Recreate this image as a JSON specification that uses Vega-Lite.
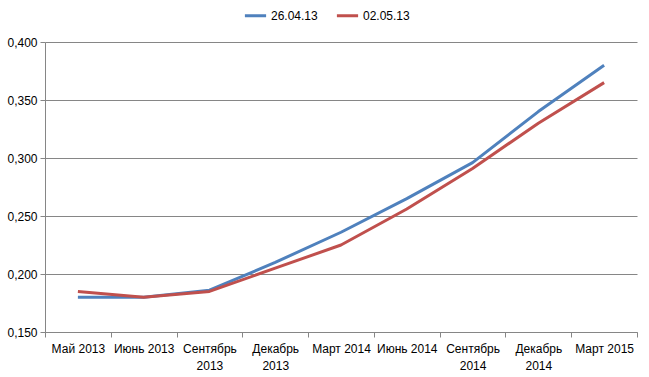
{
  "$schema": "https://vega.github.io/schema/vega-lite/v6.json",
  "autosize": {"type": "none"},
  "width": 592,
  "height": 290,
  "padding": {"left": 45, "top": 42, "right": 12, "bottom": 45},
  "background": "white",
  "config": {
    "view": {"stroke": null},
    "font": "Liberation Sans",
    "axis": {"labelFont": "Liberation Sans", "labelFontSize": 12, "labelColor": "#000000"},
    "legend": {"labelFont": "Liberation Sans", "labelFontSize": 12, "labelColor": "#000000"}
  },
  "data": {
    "values": [
      {"period": "Май 2013", "series": "26.04.13", "value": 0.180},
      {"period": "Июнь 2013", "series": "26.04.13", "value": 0.180},
      {"period": "Сентябрь 2013", "series": "26.04.13", "value": 0.186},
      {"period": "Декабрь 2013", "series": "26.04.13", "value": 0.210},
      {"period": "Март 2014", "series": "26.04.13", "value": 0.236},
      {"period": "Июнь 2014", "series": "26.04.13", "value": 0.265},
      {"period": "Сентябрь 2014", "series": "26.04.13", "value": 0.296},
      {"period": "Декабрь 2014", "series": "26.04.13", "value": 0.340},
      {"period": "Март 2015", "series": "26.04.13", "value": 0.380},
      {"period": "Май 2013", "series": "02.05.13", "value": 0.185},
      {"period": "Июнь 2013", "series": "02.05.13", "value": 0.180},
      {"period": "Сентябрь 2013", "series": "02.05.13", "value": 0.185},
      {"period": "Декабрь 2013", "series": "02.05.13", "value": 0.205},
      {"period": "Март 2014", "series": "02.05.13", "value": 0.225},
      {"period": "Июнь 2014", "series": "02.05.13", "value": 0.256},
      {"period": "Сентябрь 2014", "series": "02.05.13", "value": 0.291},
      {"period": "Декабрь 2014", "series": "02.05.13", "value": 0.330},
      {"period": "Март 2015", "series": "02.05.13", "value": 0.365}
    ]
  },
  "mark": {"type": "line", "strokeWidth": 3, "strokeJoin": "round"},
  "encoding": {
    "x": {
      "field": "period",
      "type": "ordinal",
      "sort": null,
      "bandPosition": 0.5,
      "scale": {"type": "band", "paddingInner": 0, "paddingOuter": 0},
      "axis": {
        "title": null,
        "labelAngle": 0,
        "labelPadding": 6,
        "tickBand": "extent",
        "tickSize": 5,
        "tickColor": "#868686",
        "domainColor": "#868686",
        "labelExpr": "length(datum.label) > 10 ? split(datum.label, ' ') : datum.label",
        "labelLineHeight": 17,
        "labelBaseline": "top"
      }
    },
    "y": {
      "field": "value",
      "type": "quantitative",
      "scale": {"domain": [0.15, 0.4], "nice": false, "zero": false},
      "axis": {
        "title": null,
        "values": [0.15, 0.2, 0.25, 0.3, 0.35, 0.4],
        "labelExpr": "replace(format(datum.value, '.3f'), '.', ',')",
        "grid": true,
        "gridColor": "#868686",
        "tickColor": "#868686",
        "domainColor": "#868686",
        "tickSize": 5,
        "labelPadding": 3
      }
    },
    "color": {
      "field": "series",
      "type": "nominal",
      "sort": ["26.04.13", "02.05.13"],
      "scale": {"domain": ["26.04.13", "02.05.13"], "range": ["#4F81BD", "#C0504D"]},
      "legend": {
        "title": null,
        "orient": "none",
        "direction": "horizontal",
        "legendX": 198,
        "legendY": -39,
        "symbolType": "stroke",
        "symbolSize": 450,
        "symbolStrokeWidth": 3,
        "columnPadding": 12,
        "labelOffset": 3
      }
    }
  }
}
